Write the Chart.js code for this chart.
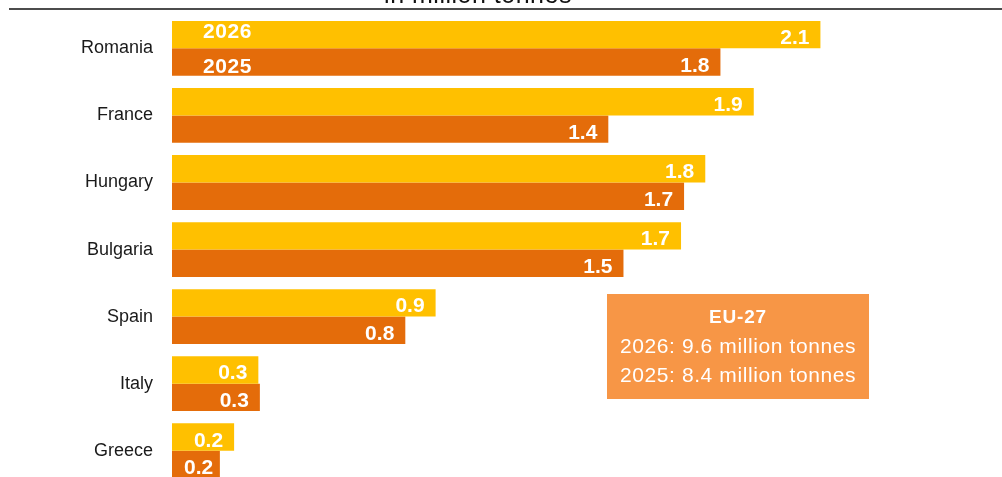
<!DOCTYPE html>
<html>
<head>
<meta charset="utf-8">
<script src="https://cdn.jsdelivr.net/npm/chart.js@4/dist/chart.umd.min.js"></script>
<style>
  html,body{margin:0;padding:0;background:#fff;}
  #wrap{width:1002px;height:477px;overflow:hidden;position:relative;}
  canvas{display:block;}
</style>
</head>
<body>
<div id="wrap"><canvas id="c" width="1002" height="490"></canvas></div>
<script>
// ---- data ----
const categories = ['Romania', 'France', 'Hungary', 'Bulgaria', 'Spain', 'Italy', 'Greece'];
const values2026 = [2.14, 1.92, 1.76, 1.68, 0.87, 0.285, 0.205];
const values2025 = [1.81, 1.44, 1.69, 1.49, 0.77, 0.29, 0.158];
const seriesLabels = ['2026', '2025'];
const subtitleText = 'in million tonnes';
const boxTitle = 'EU-27';
const boxLines = ['2026: 9.6 million tonnes', '2025: 8.4 million tonnes'];

const YELLOW = '#FFC000';
const ORANGE = '#E46C0A';
const BOX = '#F79646';

const legendOffsets = [3.7, 10.7];

const labelPlugin = {
  id: 'barLabels',
  afterDatasetsDraw(chart) {
    const ctx = chart.ctx;
    ctx.save();
    ctx.fillStyle = '#fff';
    ctx.textBaseline = 'alphabetic';
    chart.data.datasets.forEach((ds, di) => {
      const meta = chart.getDatasetMeta(di);
      meta.data.forEach((bar, i) => {
        const txt = (Math.round(ds.data[i] * 10) / 10).toFixed(1);
        ctx.font = 'bold 21px "Liberation Sans"';
        ctx.letterSpacing = '0px';
        const w = ctx.measureText(txt).width;
        const x = Math.max(bar.x - 11, bar.base + 12 + w);
        ctx.textAlign = 'right';
        ctx.fillText(txt, x, bar.y + 9.5);
      });
      const b0 = meta.data[0];
      ctx.textAlign = 'left';
      ctx.font = 'bold 21px "Liberation Sans"';
      ctx.letterSpacing = '0.6px';
      ctx.fillText(ds.label, b0.base + 31, b0.y + legendOffsets[di]);
    });
    ctx.restore();
  },
  afterDraw(chart) {
    const ctx = chart.ctx;
    ctx.save();
    // subtitle (cut off at top) and rule
    ctx.fillStyle = '#111';
    ctx.font = '25px "Liberation Sans"';
    ctx.letterSpacing = '0.5px';
    ctx.textAlign = 'center';
    ctx.textBaseline = 'alphabetic';
    ctx.fillText(subtitleText, 478, 3);
    ctx.strokeStyle = '#111';
    ctx.lineWidth = 1.5;
    ctx.beginPath();
    ctx.moveTo(9, 9);
    ctx.lineTo(1002, 9);
    ctx.stroke();
    // EU-27 box
    ctx.fillStyle = BOX;
    ctx.fillRect(607, 294, 262, 105);
    ctx.fillStyle = '#fff';
    ctx.font = 'bold 19px "Liberation Sans"';
    ctx.letterSpacing = '0.8px';
    ctx.fillText(boxTitle, 738, 323);
    ctx.font = '21px "Liberation Sans"';
    ctx.letterSpacing = '0.6px';
    ctx.fillText(boxLines[0], 738, 353);
    ctx.fillText(boxLines[1], 738, 382);
    ctx.restore();
  }
};

new Chart(document.getElementById('c'), {
  type: 'bar',
  data: {
    labels: categories,
    datasets: [
      { label: seriesLabels[0], data: values2026, backgroundColor: YELLOW, borderWidth: 0 },
      { label: seriesLabels[1], data: values2025, backgroundColor: ORANGE, borderWidth: 0 }
    ]
  },
  options: {
    indexAxis: 'y',
    responsive: false,
    animation: false,
    devicePixelRatio: 1,
    layout: { padding: { top: 14.8, bottom: 5.7, left: 0, right: 11.9 } },
    datasets: { bar: { categoryPercentage: 0.817, barPercentage: 1.0 } },
    plugins: { legend: { display: false }, tooltip: { enabled: false }, title: { display: false } },
    scales: {
      x: { display: false, min: 0, max: 2.7 },
      y: {
        grid: { display: false, drawTicks: false },
        border: { display: false },
        ticks: { padding: 19, color: '#1a1a1a', font: { family: 'Liberation Sans', size: 18 } },
        afterFit(scale) {
          scale.width = 172;
          scale.paddingTop = 0;
          scale.paddingBottom = 0;
        }
      }
    }
  },
  plugins: [labelPlugin]
});
</script>
</body>
</html>
